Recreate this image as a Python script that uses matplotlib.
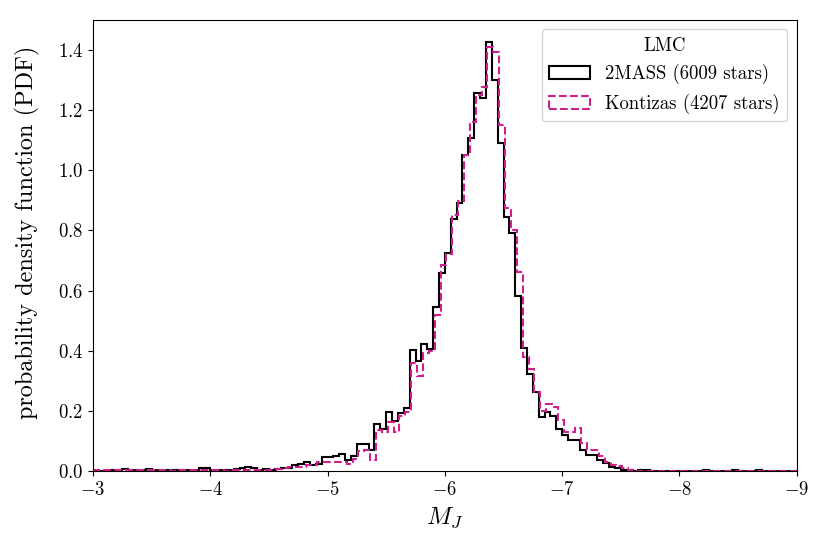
import matplotlib
matplotlib.use("Agg")
import matplotlib.pyplot as plt
import numpy as np

plt.rcParams['font.family'] = 'serif'
plt.rcParams['font.serif'] = ['cmr10', 'DejaVu Serif']
plt.rcParams['mathtext.fontset'] = 'cm'
plt.rcParams['axes.formatter.use_mathtext'] = True

# bin width 0.05 mag, bins listed from M_J = -3 towards -9
bin_width = 0.05
n_bins = 120

# 2MASS (6009 stars), PDF per bin
pdf_2mass = [
    0.004, 0.000, 0.000, 0.004, 0.004, 0.006, 0.004, 0.002, 0.004, 0.006,
    0.002, 0.002, 0.004, 0.004, 0.002, 0.004, 0.002, 0.004, 0.008, 0.008,
    0.004, 0.004, 0.002, 0.004, 0.006, 0.008, 0.012, 0.010, 0.004, 0.006,
    0.004, 0.006, 0.010, 0.008, 0.018, 0.024, 0.028, 0.020, 0.022, 0.045,
    0.045, 0.048, 0.057, 0.035, 0.050, 0.090, 0.088, 0.070, 0.155, 0.140,
    0.197, 0.165, 0.194, 0.208, 0.402, 0.364, 0.422, 0.406, 0.546, 0.657,
    0.724, 0.838, 0.891, 1.051, 1.106, 1.256, 1.241, 1.428, 1.300, 1.090,
    0.844, 0.790, 0.582, 0.410, 0.323, 0.264, 0.179, 0.197, 0.184, 0.141,
    0.120, 0.103, 0.103, 0.070, 0.053, 0.053, 0.037, 0.026, 0.014, 0.009,
    0.003, 0.003, 0.000, 0.002, 0.003, 0.000, 0.000, 0.000, 0.000, 0.000,
    0.000, 0.000, 0.000, 0.000, 0.003, 0.000, 0.000, 0.000, 0.000, 0.003,
    0.000, 0.000, 0.000, 0.003, 0.000, 0.000, 0.000, 0.000, 0.000, 0.000,
]

# Kontizas (4207 stars), PDF per bin
pdf_kontizas = [
    0.002, 0.002, 0.002, 0.002, 0.004, 0.002, 0.002, 0.002, 0.002, 0.002,
    0.002, 0.002, 0.002, 0.000, 0.002, 0.002, 0.002, 0.002, 0.002, 0.004,
    0.002, 0.002, 0.000, 0.002, 0.002, 0.002, 0.002, 0.002, 0.004, 0.002,
    0.004, 0.006, 0.008, 0.012, 0.014, 0.014, 0.020, 0.020, 0.031, 0.031,
    0.031, 0.031, 0.031, 0.023, 0.040, 0.066, 0.070, 0.037, 0.136, 0.131,
    0.164, 0.131, 0.181, 0.197, 0.358, 0.314, 0.391, 0.400, 0.520, 0.685,
    0.720, 0.850, 0.899, 1.050, 1.160, 1.250, 1.278, 1.411, 1.392, 1.151,
    0.874, 0.800, 0.660, 0.380, 0.340, 0.264, 0.200, 0.222, 0.214, 0.170,
    0.131, 0.128, 0.142, 0.092, 0.070, 0.070, 0.048, 0.031, 0.020, 0.017,
    0.010, 0.003, 0.000, 0.000, 0.000, 0.000, 0.000, 0.000, 0.000, 0.000,
    0.000, 0.000, 0.000, 0.000, 0.000, 0.000, 0.000, 0.000, 0.000, 0.000,
    0.000, 0.000, 0.000, 0.000, 0.000, 0.000, 0.000, 0.000, 0.000, 0.000,
]

label_2mass = '2MASS (6009 stars)'
label_kontizas = 'Kontizas (4207 stars)'
kontizas_shift = -0.013  # its bins sit slightly off the 2MASS grid

pink = '#cf1f8c'

edges = -3.0 - bin_width * np.arange(n_bins + 1)
centers = edges[:-1] - bin_width / 2

fig = plt.figure(figsize=(8.3, 5.54), dpi=100)
ax = fig.add_axes([0.112, 0.150, 0.848, 0.814])

ax.hist(centers, bins=np.sort(edges), weights=pdf_2mass, histtype='step',
        color='black', lw=1.5, label=label_2mass)
ax.hist(centers + kontizas_shift, bins=np.sort(edges + kontizas_shift),
        weights=pdf_kontizas, histtype='step', color=pink, lw=1.5,
        ls='--', label=label_kontizas)

ax.set_xlim(-3, -9)
ax.set_ylim(0, 1.5)
ax.set_yticks(np.arange(0, 1.41, 0.2))
ax.set_xticks(np.arange(-3, -9.1, -1))
ax.tick_params(labelsize=13.5)

ax.set_xlabel(r'$M_J$', fontsize=18, labelpad=5)
ax.set_ylabel('probability density function (PDF)', fontsize=17.5)
ax.yaxis.set_label_coords(-0.075, 0.53)

ax.legend(title='LMC', loc='upper right', fontsize=13.5, title_fontsize=13.5,
          handlelength=2.2)

fig.savefig('out.png', dpi=100)
